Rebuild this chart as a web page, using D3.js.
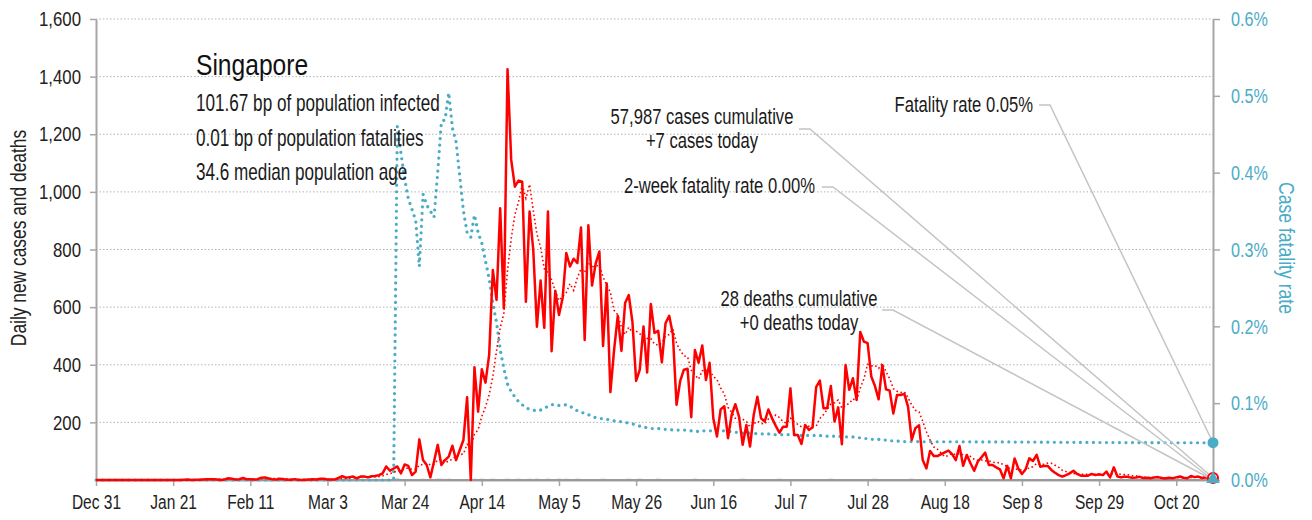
<!DOCTYPE html>
<html>
<head>
<meta charset="utf-8">
<script src="https://cdn.jsdelivr.net/npm/d3@7"></script>
<style>
body { margin: 0; background: #fff; }
text { font-family: "Liberation Sans", Arial, sans-serif; }
</style>
</head>
<body>
<div id="chart"></div>
<script>
// one value per day, first day is Dec 31
var startDate = new Date(2019, 11, 31);

// daily new cases
var cases = [
    0,0,0,0,0,0,0,0,0,0, 0,0,0,0,0,0,0,0,0,0, 0,0,0,0,
    1,2,0,1,1,2,3,3,3,2,0,2,6,4,2,3,7,3,3,2,3,8,9,5,3,2,4,3,1,1,3,1,0,1,2,3,2,4,4,2,2,2,7,13,8,10,12,6,12,12,9,13,14,17,23,
    47,32,40,47,23,54,49,17,29,141,
    69,52,9,64,122,52,69,81,119,69,
    104,139,287,0,391,237,384,338,434,729,
    625,943,596,1426,1111,1018,1039,1035,619,932,
    799,532,692,528,932,447,657,573,632,788,
    741,768,753,876,486,884,675,752,793,465,
    682,305,451,570,448,614,642,548,344,383,
    533,373,611,510,518,408,544,570,506,261,
    344,383,386,218,451,407,467,347,407,214,
    151,
    245,256,145,226,263,220,122,191,116,226,
    289,214,203,245,214,188,164,185,185,318,
    156,156,125,191,174,182,322,345,249,249,
    326,203,252,124,399,313,353,278,514,480,
    475,359,326,280,398,315,310,231,295,295,
    299,255,139,180,
    190,69,40,101,83,83,90,96,102,90,
    69,118,49,87,58,32,64,79,95,52,
    52,44,37,6,49,6,75,40,21,37,
    75,66,87,46,49,49,35,25,17,12,
    17,23,32,21,15,15,15,21,17,20,
    17,29,9,44,12,9,12,
    10,8,9,11,7,8,6,9,10,7,5,8,6,9,12,8,6,14,10,12,7,9,5,7
];

// case fatality rate, in percent
var rate = [
    0,0,0,0,0,0,0,0,0,0, 0,0,0,0,0,0,0,0,0,0, 0,0,0,0,0,0,0,0,0,0,
    0,0,0,0,0,0,0,0,0,0, 0,0,0,0,0,0,0,0,0,0, 0,0,0,0,0,0,0,0,0,0,
    0,0,0,0,0,0,0,0,0,0, 0,0,0,0,0,0,0,0,0,0, 0,0,
    .460,.425,.392,.366,.352,.338,.278,.372,.358,.350,
    .342,.400,.466,.469,.504,.458,.440,.395,.350,.322,
    .316,.345,.322,.308,.285,.262,.230,.205,.170,.145,
    .125,.115,.108,.102,.098,.094,.092,.091,.090,.091,
    .093,.096,.098,.098,.097,.097,.098,.096,.093,.090,
    .088,.087,.085,.083,.081,.080,.080,.079,.078,.077,
    .076,.076,.075,.074,.073,.072,.070,.069,.068,.067,
    .067,.067,.066,.066,.066,.065,.065,.065,.065,.065,
    .064,.064,.063,.064,.064,.064,.064,.064,.064,
    .064,.063,.063,.062,.062,.061,.061,.061,.061,.060,
    .060,.060,.060,.059,.059,.059,.059,.059,.059,.059,
    .058,.058,.058,.058,.058,.058,.058,.057,.057,.057,
    .057,.057,.056,.056,.056,.056,.055,.055,.054,.054,
    .053,.053,.053,.052,.052,.051,.051,.051,.050,.050,
    .050,.050,.050,.050,
    .0498,.0498,.0498,.0498,.0498,.0498,.0498,.0498,.0498,.0498,
    .0497,.0497,.0497,.0497,.0497,.0496,.0496,.0496,.0496,.0496,
    .0495,.0495,.0495,.0495,.0495,.0494,.0494,.0494,.0494,.0494,
    .0493,.0493,.0493,.0492,.0492,.0492,.0491,.0491,.0491,.0490,
    .0490,.0490,.0490,.0489,.0489,.0489,.0489,.0489,.0488,.0488,
    .0488,.0488,.0488,.0487,.0487,.0487,.0487,.0487,.0487,.0486,
    .0486,.0486,.0486,.0486,.0486,.0486,.0485,.0485,.0485,.0485,
    .0485,.0485,.0485,.0485,.0485,.0485,.0485,.0485,.0485,.0485
];

// days (index from start) with deaths, and how many
var deathDays = [82, 89, 93, 94, 96, 103, 105, 108, 112, 115, 118, 120, 123, 126, 128, 131, 138, 145, 148, 153, 163, 176, 186, 200, 212, 222, 241];
var deathCounts = [2, 1, 1, 1, 1, 1, 1, 1, 1, 1, 1, 1, 1, 1, 1, 1, 1, 1, 1, 1, 1, 1, 1, 1, 1, 1, 1];

var yTicks = [200, 400, 600, 800, 1000, 1200, 1400, 1600];
var rateTicks = [0, 0.1, 0.2, 0.3, 0.4, 0.5, 0.6];
var tickStep = 21; // days between date ticks

var country = "Singapore";
var infoLines = ["101.67 bp of population infected", "0.01 bp of population fatalities", "34.6 median population age"];

var RED = "#ff0000", TEAL = "#4bacc6", GREY = "#a6a6a6";

var W = 1312, H = 520;
var margin = {top: 19, right: 99, bottom: 40, left: 96};

// no condensed face installed, so squeeze the text sideways
function squeeze(sel, k) {
    sel.each(function () {
        var t = d3.select(this);
        var x0 = +t.attr("x") || 0;
        t.attr("x", x0 / k);
        var tr = t.attr("transform") || "";
        t.attr("transform", tr + " scale(" + k + ",1)");
    });
}

var svg = d3.select("#chart").append("svg")
    .attr("width", W)
    .attr("height", H);

var last = cases.length - 1;
var days = cases.map(function (d, i) { return d3.timeDay.offset(startDate, i); });

var deaths = cases.map(function () { return 0; });
deathDays.forEach(function (d, i) { deaths[d] = deathCounts[i]; });

// 7 day trailing average of cases
var avg = [];
cases.forEach(function (d, i) {
    if (i >= 6) avg.push({i: i, v: d3.mean(cases.slice(i - 6, i + 1))});
});

var x = d3.scaleTime().domain([days[0], days[last]]).range([margin.left, W - margin.right]);
var y = d3.scaleLinear().domain([0, 1600]).range([H - margin.bottom, margin.top]);
var yRate = d3.scaleLinear().domain([0, 0.6]).range([H - margin.bottom, margin.top]);

// gridlines
svg.append("g").selectAll("line").data(yTicks).enter().append("line")
    .attr("x1", margin.left).attr("x2", W - margin.right)
    .attr("y1", function (d) { return y(d); }).attr("y2", function (d) { return y(d); })
    .attr("stroke", "#b4b4b4").attr("stroke-width", 1).attr("stroke-dasharray", "1.5,2");

// axes
var tickDates = d3.range(0, last + 1, tickStep).map(function (i) { return days[i]; });

var xAxis = svg.append("g")
    .attr("transform", "translate(0," + (H - margin.bottom) + ")")
    .call(d3.axisBottom(x).tickValues(tickDates).tickFormat(d3.timeFormat("%b %-d")).tickSize(6).tickSizeOuter(0).tickPadding(8));

var yAxis = svg.append("g")
    .attr("transform", "translate(" + margin.left + ",0)")
    .call(d3.axisLeft(y).tickValues(yTicks).tickFormat(d3.format(",")).tickSize(6).tickSizeOuter(0).tickPadding(9));

var rAxis = svg.append("g")
    .attr("transform", "translate(" + (W - margin.right) + ",0)")
    .call(d3.axisRight(yRate).tickValues(rateTicks).tickFormat(function (d) { return d.toFixed(1) + "%"; }).tickSize(7).tickSizeOuter(0).tickPadding(11));

[xAxis, yAxis, rAxis].forEach(function (g) {
    g.select(".domain").attr("stroke", GREY).attr("stroke-width", 2);
    g.selectAll(".tick line").attr("stroke", GREY).attr("stroke-width", 1.5);
    g.selectAll(".tick text").attr("font-size", 21).attr("fill", "#222");
});
rAxis.selectAll(".tick text").attr("fill", TEAL);
squeeze(xAxis.selectAll(".tick text"), 0.74);
squeeze(yAxis.selectAll(".tick text"), 0.8);
squeeze(rAxis.selectAll(".tick text"), 0.77);

// axis titles
var tl = svg.append("text")
    .attr("transform", "translate(26,238) rotate(-90)")
    .attr("text-anchor", "middle")
    .attr("font-size", 22).attr("fill", "#222")
    .text("Daily new cases and deaths");
squeeze(tl, 0.79);

var tr = svg.append("text")
    .attr("transform", "translate(1279,248) rotate(90)")
    .attr("text-anchor", "middle")
    .attr("font-size", 22).attr("fill", TEAL)
    .text("Case fatality rate");
squeeze(tr, 0.8);

// series
var lineDeaths = d3.line()
    .x(function (d, i) { return x(days[i]); })
    .y(function (d) { return y(d); });

svg.append("path").datum(deaths)
    .attr("d", lineDeaths)
    .attr("fill", "none").attr("stroke", "#9a9a9a").attr("stroke-width", 2);

var lineRate = d3.line()
    .x(function (d, i) { return x(days[i]); })
    .y(function (d) { return yRate(d); });

svg.append("path").datum(rate)
    .attr("d", lineRate)
    .attr("fill", "none").attr("stroke", TEAL).attr("stroke-width", 3.2)
    .attr("stroke-linecap", "round").attr("stroke-dasharray", "0.01,6.5");

var lineAvg = d3.line()
    .x(function (d) { return x(days[d.i]); })
    .y(function (d) { return y(d.v); });

svg.append("path").datum(avg)
    .attr("d", lineAvg)
    .attr("fill", "none").attr("stroke", RED).attr("stroke-width", 1.6)
    .attr("stroke-dasharray", "1.6,2.6");

var lineCases = d3.line()
    .x(function (d, i) { return x(days[i]); })
    .y(function (d) { return y(d); });

svg.append("path").datum(cases)
    .attr("d", lineCases)
    .attr("fill", "none").attr("stroke", RED).attr("stroke-width", 2.5)
    .attr("stroke-linejoin", "round");

// annotations with leader lines to the last point
var xEnd = x(days[last]);
var notes = [
    {lines: ["Fatality rate 0.05%"], anchor: "end", tx: 1033, ty: 112, lx: 1039, ly: 105, ty2: yRate(rate[last])},
    {lines: ["57,987 cases cumulative", "+7 cases today"], anchor: "middle", tx: 702, ty: 124, lx: 799, ly: 129, ty2: y(cases[last])},
    {lines: ["2-week fatality rate 0.00%"], anchor: "end", tx: 815, ty: 193, lx: 822, ly: 187, ty2: yRate(0)},
    {lines: ["28 deaths cumulative", "+0 deaths today"], anchor: "middle", tx: 799, ty: 306, lx: 882, ly: 310, ty2: y(deaths[last])}
];

notes.forEach(function (n) {
    svg.append("path")
        .attr("d", "M" + n.lx + "," + n.ly + "L" + (n.lx + 11) + "," + n.ly + "L" + xEnd + "," + n.ty2)
        .attr("fill", "none").attr("stroke", "#c4c4c4").attr("stroke-width", 1.5);
    n.lines.forEach(function (t, k) {
        var txt = svg.append("text")
            .attr("x", n.tx).attr("y", n.ty + k * 24.5)
            .attr("text-anchor", n.anchor)
            .attr("font-size", 22).attr("fill", "#1a1a1a")
            .text(t);
        squeeze(txt, 0.755);
    });
});

// end markers
svg.append("circle")
    .attr("cx", xEnd).attr("cy", y(cases[last])).attr("r", 5)
    .attr("fill", "#fff").attr("stroke", RED).attr("stroke-width", 2);

svg.append("path")
    .attr("d", d3.symbol().type(d3.symbolTriangle).size(80))
    .attr("transform", "translate(" + xEnd + "," + (yRate(0) - 1) + ")")
    .attr("fill", TEAL);

svg.append("circle")
    .attr("cx", xEnd).attr("cy", yRate(rate[last])).attr("r", 5.5)
    .attr("fill", TEAL);

// country block
var title = svg.append("text")
    .attr("x", 196).attr("y", 75)
    .attr("font-size", 30).attr("fill", "#111")
    .text(country);
squeeze(title, 0.82);

var info = svg.selectAll(".info").data(infoLines).enter().append("text")
    .attr("class", "info")
    .attr("x", 196)
    .attr("y", function (d, i) { return 111.5 + i * 34.3; })
    .attr("font-size", 23).attr("fill", "#1a1a1a")
    .text(function (d) { return d; });
squeeze(info, 0.745);
</script>
</body>
</html>
